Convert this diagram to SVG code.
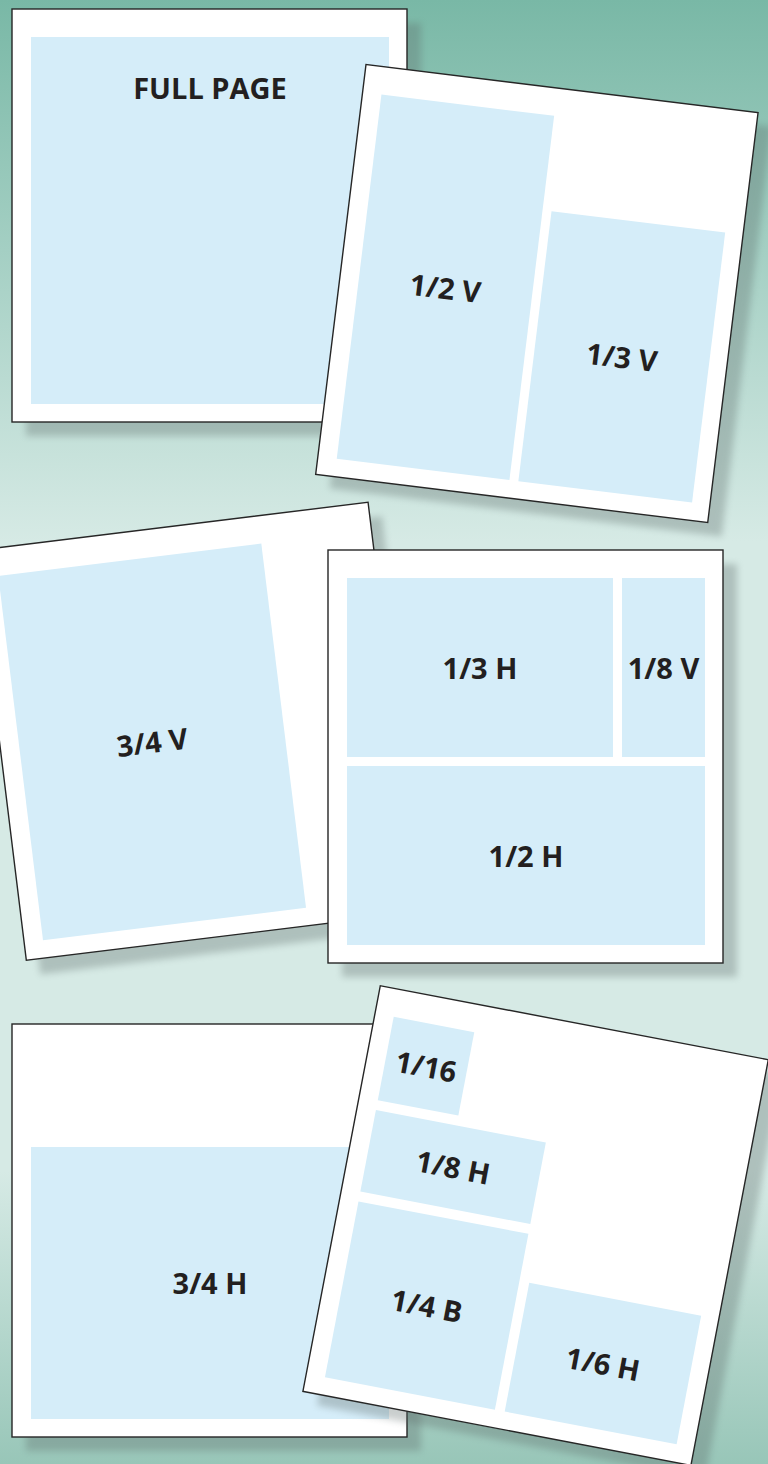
<svg xmlns="http://www.w3.org/2000/svg" width="768" height="1464" viewBox="0 0 768 1464">
  <defs>
    <linearGradient id="bg" x1="0" y1="0" x2="0" y2="1">
      <stop offset="0" stop-color="#79b8a6"/>
      <stop offset="0.37" stop-color="#d6eae5"/>
      <stop offset="0.80" stop-color="#d6eae5"/>
      <stop offset="1" stop-color="#98c6b8"/>
    </linearGradient>
    <filter id="blur" x="-10%" y="-10%" width="120%" height="120%">
      <feGaussianBlur stdDeviation="3.5"/>
    </filter>
  </defs>
  <style>
    .page { fill: #ffffff; stroke: #262626; stroke-width: 1.4; }
    .ad { fill: #d5edf9; }
    .shadow { fill: #5c6968; opacity: 0.32; filter: url(#blur); }
    .lbl { font-family: "Open Sans", "Liberation Sans", sans-serif; font-weight: bold; font-size: 29px; fill: #231f20; text-anchor: middle; }
  </style>

  <rect x="0" y="0" width="768" height="1464" fill="url(#bg)"/>

  <!-- Page 1: full page -->
  <rect class="shadow" x="26" y="23" width="395" height="413"/>
  <g id="page-full" transform="translate(12,9)">
    <rect class="page" x="0" y="0" width="395" height="413"/>
    <rect class="ad" x="19" y="28" width="358" height="367"/>
    <text class="lbl" x="198" y="90">FULL PAGE</text>
  </g>

  <!-- Page 2: 1/2 V and 1/3 V -->
  <rect class="shadow" x="0" y="0" width="395" height="413" transform="translate(380,78.5) rotate(7)"/>
  <g id="page-half-third-v" transform="translate(366,64.5) rotate(7)">
    <rect class="page" x="0" y="0" width="395" height="413"/>
    <rect class="ad" x="19" y="28" width="174" height="367"/>
    <rect class="ad" x="202" y="123" width="175" height="272"/>
    <text class="lbl" x="106" y="223">1/2 V</text>
    <text class="lbl" x="289.5" y="270">1/3 V</text>
  </g>

  <!-- Page 3: 3/4 V -->
  <rect class="shadow" x="0" y="0" width="395" height="413" transform="translate(-10,564.4) rotate(-7)"/>
  <g id="page-three-quarter-v" transform="translate(-24,550.4) rotate(-7)">
    <rect class="page" x="0" y="0" width="395" height="413"/>
    <rect class="ad" x="19" y="28" width="265" height="367"/>
    <text class="lbl" x="151.5" y="222.5">3/4 V</text>
  </g>

  <!-- Page 4: 1/3 H, 1/8 V, 1/2 H -->
  <rect class="shadow" x="342" y="564" width="395" height="413"/>
  <g id="page-third-eighth-half-h" transform="translate(328,550)">
    <rect class="page" x="0" y="0" width="395" height="413"/>
    <rect class="ad" x="19" y="28" width="266" height="179"/>
    <rect class="ad" x="294" y="28" width="83" height="179"/>
    <rect class="ad" x="19" y="216" width="358" height="179"/>
    <text class="lbl" x="152" y="128.5">1/3 H</text>
    <text class="lbl" x="335.5" y="128.5">1/8 V</text>
    <text class="lbl" x="198" y="316.5">1/2 H</text>
  </g>

  <!-- Page 5: 3/4 H -->
  <rect class="shadow" x="26" y="1038" width="395" height="413"/>
  <g id="page-three-quarter-h" transform="translate(12,1024)">
    <rect class="page" x="0" y="0" width="395" height="413"/>
    <rect class="ad" x="19" y="123" width="358" height="272"/>
    <text class="lbl" x="198" y="270">3/4 H</text>
  </g>

  <!-- Page 6: 1/16, 1/8 H, 1/4 B, 1/6 H -->
  <rect class="shadow" x="0" y="0" width="395" height="413" transform="translate(394.3,999.7) rotate(10.8)"/>
  <g id="page-small-ads" transform="translate(380.3,985.7) rotate(10.8)">
    <rect class="page" x="0" y="0" width="395" height="413"/>
    <rect class="ad" x="19" y="28" width="82" height="85"/>
    <rect class="ad" x="19" y="123" width="173" height="83"/>
    <rect class="ad" x="19" y="216" width="173" height="179"/>
    <rect class="ad" x="202" y="264" width="175" height="131"/>
    <text class="lbl" x="60" y="81.5">1/16</text>
    <text class="lbl" x="105.5" y="175.5">1/8 H</text>
    <text class="lbl" x="105.5" y="316.5">1/4 B</text>
    <text class="lbl" x="289.5" y="340.5">1/6 H</text>
  </g>
</svg>
